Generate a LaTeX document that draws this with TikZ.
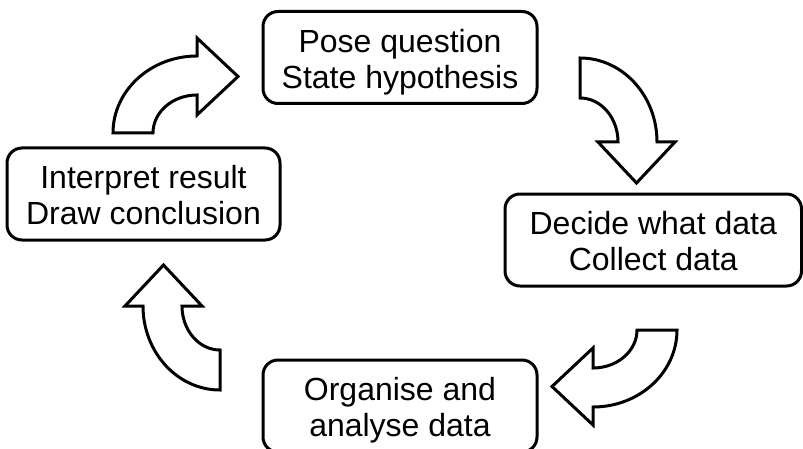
\documentclass[tikz,border=0pt]{standalone}
\usepackage{fontspec}
\setmainfont{Liberation Sans}
\begin{document}
\begin{tikzpicture}[x=1pt,y=1pt,
  boxstyle/.style={draw=black,line width=3pt,rounded corners=15pt,inner sep=0pt,minimum width=#1,minimum height=92pt},
  boxtext/.style={anchor=north,inner sep=0pt,align=center,font=\fontsize{32}{36}\selectfont},
  arrowline/.style={draw=black,fill=white,line width=3pt,line join=miter},
  curvearrow/.pic={
    \path[arrowline] (-84,0) arc[start angle=180,end angle=90,x radius=84,y radius=77]
      -- (0,95) -- (41,56.5) -- (0,18) -- (0,38)
      arc[start angle=90,end angle=180,x radius=44,y radius=38] -- cycle;
  }]
\useasboundingbox (0,0) rectangle (803,448);
\clip (0,0) rectangle (803,448);
% boxes
\node[boxstyle=274pt] (top) at (400,390.5) {};
\node[boxstyle=273pt] (left) at (143.5,254) {};
\node[boxstyle=296.5pt] (right) at (653.25,208) {};
\node[boxstyle=274pt] (bottom) at (400,42) {};
% texts
\node[boxtext] (toptext) at ([yshift=28.5pt]top.center) {Pose question\\State hypothesis};
\node[boxtext] (lefttext) at ([yshift=28.5pt]left.center) {Interpret result\\Draw conclusion};
\node[boxtext] (righttext) at ([yshift=28.5pt]right.center) {Decide what data\\Collect data};
\node[boxtext] (bottomtext) at ([yshift=28.5pt]bottom.center) {Organise and\\analyse data};
% curved block arrows
\pic (a1) at (197,315) {curvearrow};
\pic[rotate=-90] (a2) at (580,306) {curvearrow};
\pic[rotate=180] (a3) at (593,118) {curvearrow};
\pic[rotate=90] (a4) at (220,142) {curvearrow};
\end{tikzpicture}
\end{document}
